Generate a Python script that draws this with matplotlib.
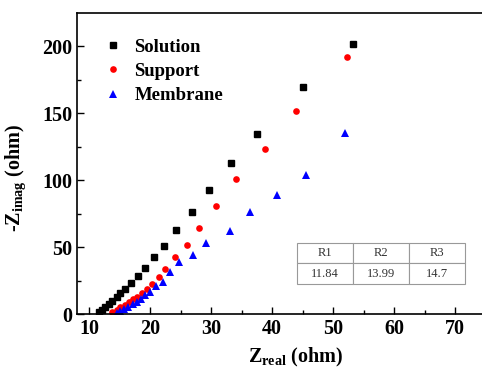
import matplotlib
matplotlib.use('Agg')
import matplotlib.pyplot as plt

plt.rcParams['font.family'] = ['Liberation Serif', 'DejaVu Serif']
plt.rcParams['font.weight'] = 'bold'
plt.rcParams['mathtext.fontset'] = 'custom'
plt.rcParams['mathtext.rm'] = 'Liberation Serif:bold'
plt.rcParams['mathtext.it'] = 'Liberation Serif:bold'
plt.rcParams['mathtext.bf'] = 'Liberation Serif:bold'

# Nyquist data
sol_x = [11.6, 12.1, 12.6, 13.2, 13.8, 14.5, 15.1, 15.9, 16.9, 18.0, 19.1, 20.6,
         22.2, 24.2, 26.8, 29.6, 33.2, 37.5, 45.0, 53.2]
sol_y = [1.5, 3.0, 5.0, 7.2, 9.7, 12.4, 15.4, 18.9, 22.9, 28.4, 34.6, 42.3,
         50.5, 62.7, 76.1, 92.8, 113.2, 134.8, 169.6, 202.2]

sup_x = [13.8, 14.5, 15.1, 15.9, 16.6, 17.2, 17.9, 18.6, 19.4, 20.3, 21.4, 22.5,
         24.0, 26.0, 28.0, 30.8, 34.1, 38.9, 43.9, 52.2]
sup_y = [1.3, 3.2, 5.0, 6.9, 9.0, 11.0, 12.9, 15.4, 18.4, 22.4, 27.4, 33.6,
         42.8, 51.7, 64.4, 81.1, 101.2, 123.1, 152.0, 192.3]

mem_x = [14.6, 15.1, 15.7, 16.4, 17.1, 17.8, 18.5, 19.2, 20.0, 20.9, 22.1, 23.2,
         24.7, 27.0, 29.2, 33.0, 36.3, 40.8, 45.5, 52.0]
mem_y = [0.7, 2.2, 3.7, 5.4, 7.2, 9.2, 11.4, 14.0, 16.4, 20.7, 24.1, 31.1,
         38.6, 43.8, 52.7, 61.7, 76.3, 88.8, 104.2, 135.6]

table_cols = ['R1', 'R2', 'R3']
table_vals = ['11.84', '13.99', '14.7']

fig = plt.figure(figsize=(4.82, 3.68), dpi=100)
ax = fig.add_axes([77 / 482, 54 / 368, 414.8 / 482, 301 / 368])

ax.plot(sol_x, sol_y, 's', color='black', markersize=4.5, label='Solution', linestyle='none')
ax.plot(sup_x, sup_y, 'o', color='red', markersize=4.8, markeredgewidth=0, label='Support', linestyle='none')
ax.plot(mem_x, mem_y, '^', color='blue', markersize=5.2, markeredgewidth=0, label='Membrane', linestyle='none')

ax.set_xlim(8, 76)
ax.set_ylim(0, 225)
ax.set_xticks([10, 20, 30, 40, 50, 60, 70])
ax.set_yticks([0, 50, 100, 150, 200])
ax.set_xticks([15, 25, 35, 45, 55, 65, 75], minor=True)
ax.set_yticks([25, 75, 125, 175], minor=True)
ax.tick_params(which='both', direction='in', labelsize=14.5, width=1)
ax.tick_params(which='major', length=5)
ax.tick_params(which='minor', length=3)
for s in ax.spines.values():
    s.set_linewidth(1.2)

ax.set_xlabel(r'Z$_{\rm real}$ (ohm)', fontsize=14.5, fontweight='bold')
ax.set_ylabel(r'-Z$_{\rm imag}$ (ohm)', fontsize=14.5, fontweight='bold')
ax.xaxis.set_label_coords(0.526, -0.105)
ax.yaxis.set_label_coords(-0.118, 0.452)

ax.legend(loc='upper left', bbox_to_anchor=(0.05, 0.94), frameon=False, fontsize=13.5,
          handlelength=0.8, handletextpad=0.75, labelspacing=0.38, borderaxespad=0)

tbl = ax.table(cellText=[table_vals], colLabels=table_cols, cellLoc='center',
               bbox=[0.53, 0.0997, 0.4065, 0.137])
tbl.auto_set_font_size(False)
tbl.set_fontsize(9)
for (r, c), cell in tbl.get_celld().items():
    cell.set_edgecolor('#999999')
    cell.set_linewidth(0.8)
    cell.get_text().set_fontweight('normal')
    cell.get_text().set_color('#333333')

fig.savefig('out.png', dpi=100)
